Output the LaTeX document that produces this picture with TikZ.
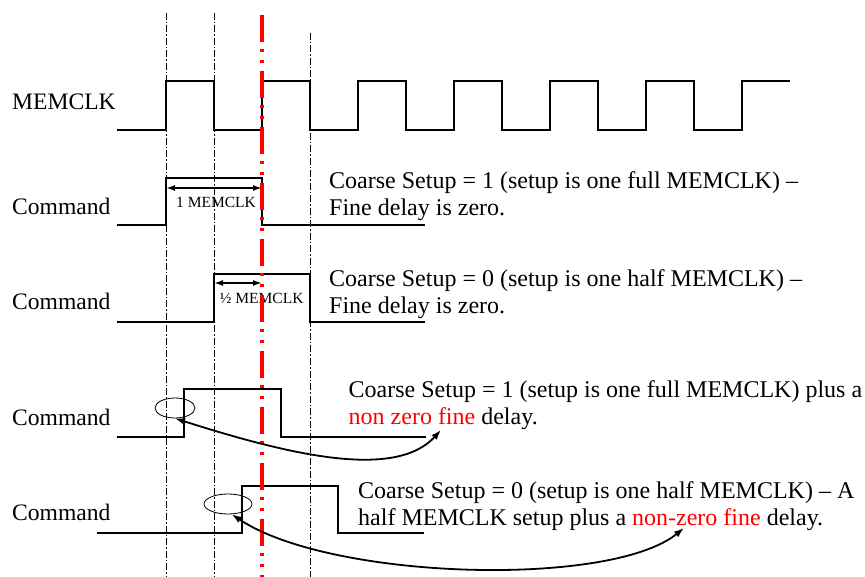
\documentclass[tikz,border=0pt]{standalone}
\usepackage{fontspec}
\setmainfont{Liberation Serif}
\usetikzlibrary{arrows.meta,shapes.geometric}
\begin{document}
\begin{tikzpicture}[x=1pt,y=-1pt,
  wave/.style={line width=2.3pt, line join=miter},
  guide/.style={line width=0.9pt, dash pattern=on 7pt off 2pt on 1.5pt off 2pt},
  redguide/.style={red, line width=4pt, dash pattern=on 27pt off 7pt on 3pt off 8pt on 3pt off 8pt},
  lbl/.style={inner sep=0pt, anchor=base west, font=\fontsize{23.6}{27}\selectfont},
  desc/.style={inner sep=0pt, anchor=base west, font=\fontsize{24}{27}\selectfont},
  small/.style={inner sep=0pt, anchor=base, font=\fontsize{15.5}{18}\selectfont},
  dim/.style={line width=1.6pt, {Latex[length=9pt,width=6pt]}-{Latex[length=9pt,width=6pt]}},
  ring/.style={ellipse, draw, line width=0.8pt, inner sep=0pt},
  pointer/.style={line width=1.8pt, {Latex[length=10pt,width=7pt]}-{Latex[length=10pt,width=7pt]}}
]
\useasboundingbox (0,0) rectangle (865,577);

% guide lines
\draw[guide] (166,13) -- (166,577);
\draw[guide] (214,13) -- (214,577);
\draw[guide] (310,33) -- (310,577);

% MEMCLK
\draw[wave] (117,130) -- (166,130) -- (166,81) -- (214,81) -- (214,130) -- (262,130) -- (262,81) -- (310,81) -- (310,130) -- (358,130) -- (358,81) -- (406,81) -- (406,130) -- (454,130) -- (454,81) -- (502,81) -- (502,130) -- (550,130) -- (550,81) -- (598,81) -- (598,130) -- (646,130) -- (646,81) -- (694,81) -- (694,130) -- (742,130) -- (742,81) -- (790,81);

% Commands
\draw[wave] (117,225) -- (166,225) -- (166,178) -- (262,178) -- (262,225) -- (425,225);
\draw[wave] (117,322) -- (214,322) -- (214,274) -- (310,274) -- (310,322) -- (425,322);
\draw[wave] (117,437) -- (184,437) -- (184,389) -- (281,389) -- (281,437) -- (426,437);
\draw[wave] (97,533) -- (242,533) -- (242,486) -- (338,486) -- (338,533) -- (424,533);

% dimension arrows
\coordinate (d1a) at (166,188); \coordinate (d1b) at (262,188);
\coordinate (d2a) at (214,283); \coordinate (d2b) at (262,283);
\draw[dim] (d1a) -- (d1b);
\draw[dim] (d2a) -- (d2b);
\node[small] (l1) at (216,207.7) {1 MEMCLK};
\node[small] (l2) at (261.7,303.3) {½ MEMCLK};

% red marker
\draw[redguide] (261.5,15) -- (261.5,577);

% left labels
\node[lbl] (mclk) at (12,109.3) {MEMCLK};
\node[lbl] (c1) at (12,215) {Command};
\node[lbl] (c2) at (12,310) {Command};
\node[lbl] (c3) at (12,425) {Command};
\node[lbl] (c4) at (12,520.7) {Command};

% descriptions
\node[desc] (t1) at (329,189) {\begin{tabular}[t]{@{}l@{}}Coarse Setup = 1 (setup is one full MEMCLK) –\\Fine delay is zero.\end{tabular}};
\node[desc] (t2) at (329,286.5) {\begin{tabular}[t]{@{}l@{}}Coarse Setup = 0 (setup is one half MEMCLK) –\\Fine delay is zero.\end{tabular}};
\node[desc] (t3) at (348.5,397.5) {\begin{tabular}[t]{@{}l@{}}Coarse Setup = 1 (setup is one full MEMCLK) plus a\\\textcolor{red}{non zero fine} delay.\end{tabular}};
\node[desc] (t4) at (358,498) {\begin{tabular}[t]{@{}l@{}}Coarse Setup = 0 (setup is one half MEMCLK) – A\\half MEMCLK setup plus a \textcolor{red}{non-zero fine} delay.\end{tabular}};

% highlight rings and pointers
\node[ring, minimum width=40pt, minimum height=20pt] (e1) at (175,408) {};
\node[ring, minimum width=48pt, minimum height=20pt] (e2) at (228,504) {};
\coordinate (p1) at (441,430);
\coordinate (p2) at (684,528);
\draw[pointer] (e1.south) .. controls (290,455) and (395,480) .. (p1);
\draw[pointer] (e2.-70) .. controls (330,580) and (610,588) .. (p2);
\end{tikzpicture}
\end{document}
